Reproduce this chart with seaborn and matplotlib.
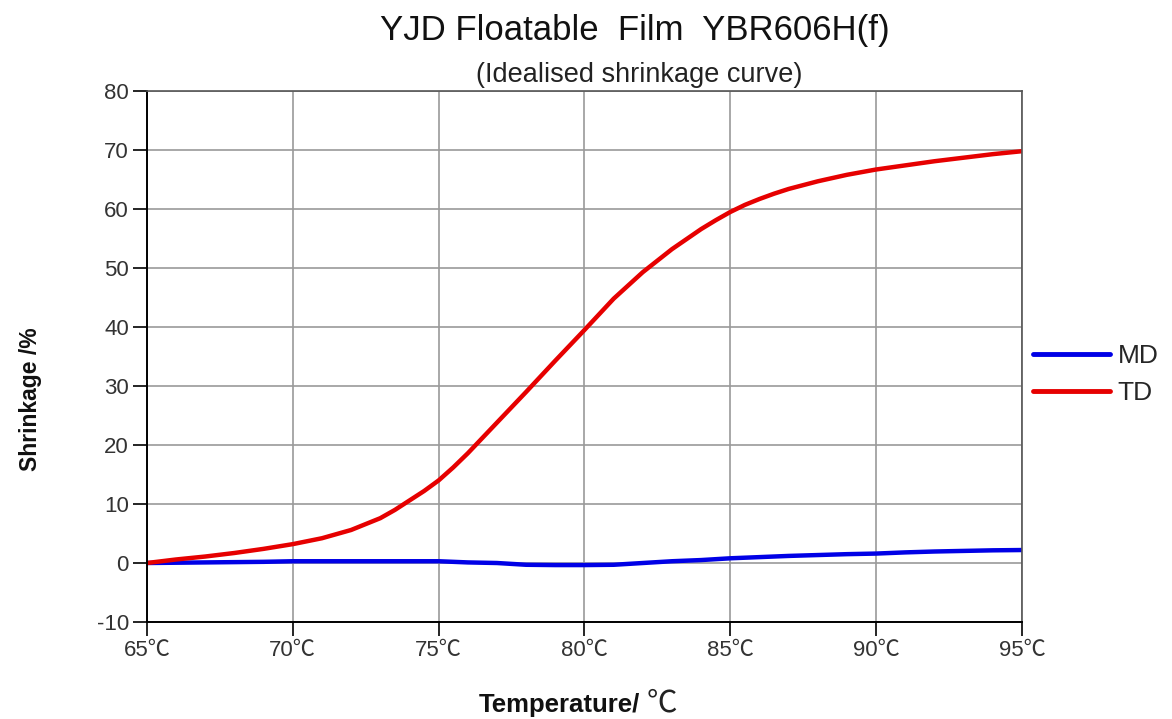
import numpy as np
import pandas as pd
import matplotlib
matplotlib.use("Agg")
import matplotlib.pyplot as plt
import seaborn as sns

# values
md_temps = [65, 66, 67, 68, 69, 70, 71, 72, 73, 74, 75, 76, 77, 78, 79, 80,
            81, 82, 83, 84, 85, 86, 87, 88, 89, 90, 91, 92, 93, 94, 95]
md_values = [0.0, 0.05, 0.1, 0.15, 0.2, 0.3, 0.3, 0.3, 0.3, 0.3, 0.3,
             0.1, 0.0, -0.3, -0.35, -0.35, -0.3, 0.0, 0.3, 0.5, 0.8,
             1.0, 1.2, 1.35, 1.5, 1.6, 1.8, 1.95, 2.05, 2.15, 2.2]
td_temps = [65, 66, 67, 68, 69, 70, 71, 72, 73, 73.5, 74, 74.5, 75, 75.5, 76,
            77, 78, 79, 80, 81, 82, 83, 84, 84.5, 85, 85.5, 86, 86.5, 87,
            88, 89, 90, 91, 92, 93, 94, 95]
td_values = [0.0, 0.6, 1.1, 1.7, 2.4, 3.2, 4.2, 5.6, 7.6, 9.0, 10.6, 12.2, 14.0, 16.2, 18.6,
             23.8, 29.0, 34.3, 39.5, 44.8, 49.3, 53.2, 56.6, 58.1, 59.5, 60.7, 61.7, 62.6, 63.4,
             64.7, 65.8, 66.7, 67.4, 68.1, 68.7, 69.3, 69.8]
x_ticks = [65, 70, 75, 80, 85, 90, 95]
x_tick_labels = ["65℃", "70℃", "75℃", "80℃", "85℃", "90℃", "95℃"]
y_ticks = [-10, 0, 10, 20, 30, 40, 50, 60, 70, 80]

df = pd.DataFrame({
    "Temperature": md_temps + td_temps,
    "Shrinkage": md_values + td_values,
    "Direction": ["MD"] * len(md_temps) + ["TD"] * len(td_temps),
})

sns.set_style("white")
plt.rcParams["font.family"] = ["Liberation Sans", "Noto Sans CJK SC", "DejaVu Sans"]
plt.rcParams["axes.unicode_minus"] = False

fig = plt.figure(figsize=(11.72, 7.19), dpi=100)
ax = fig.add_axes([0.1254, 0.1349, 0.7466, 0.7385])

sns.lineplot(data=df, x="Temperature", y="Shrinkage", hue="Direction",
             palette={"MD": "#0000e6", "TD": "#e60000"}, linewidth=3.2, ax=ax)

ax.set_xlim(65, 95)
ax.set_ylim(-10, 80)
ax.set_xticks(x_ticks)
ax.set_xticklabels(x_tick_labels)
ax.set_yticks(y_ticks)
ax.grid(True, color="#9a9a9a", linewidth=1.2)
ax.set_axisbelow(True)
ax.tick_params(axis="both", labelsize=16, length=10, width=1.2, color="black",
               direction="out", left=True, bottom=True, labelcolor="#333333", pad=3)
for side in ["left", "bottom"]:
    ax.spines[side].set_color("black")
    ax.spines[side].set_linewidth(1.4)
for side in ["top", "right"]:
    ax.spines[side].set_color("#555555")
    ax.spines[side].set_linewidth(1.2)

ax.set_xlabel("Temperature/", fontsize=18.5, fontweight="bold", color="#111111")
ax.xaxis.set_label_coords(0.563, -0.133)
ax.xaxis.label.set_horizontalalignment("right")
ax.set_ylabel("Shrinkage /%", fontsize=16.5, fontweight="bold", color="#111111")
ax.yaxis.set_label_coords(-0.12, 0.42)
fig.canvas.draw()
ax.annotate("℃", xy=(1, 0.5), xycoords=ax.xaxis.label, xytext=(5, 1),
            textcoords="offset points", ha="left", va="center",
            fontsize=22, family=["Noto Sans CJK SC"], fontweight="light", color="#222222")

fig.text(0.542, 0.958, "YJD Floatable  Film  YBR606H(f)", fontsize=25,
         ha="center", va="center", color="#111111")
fig.text(0.545, 0.895, "(Idealised shrinkage curve)", fontsize=19.5,
         ha="center", va="center", color="#222222")

leg = ax.legend(loc="center left", bbox_to_anchor=(1.013, 0.466), frameon=False,
                fontsize=19, handlelength=2.9, handletextpad=0.3, labelspacing=0.5,
                borderaxespad=0, borderpad=0, title=None)
for line in leg.get_lines():
    line.set_linewidth(3.5)

fig.savefig("out.png", dpi=100)
